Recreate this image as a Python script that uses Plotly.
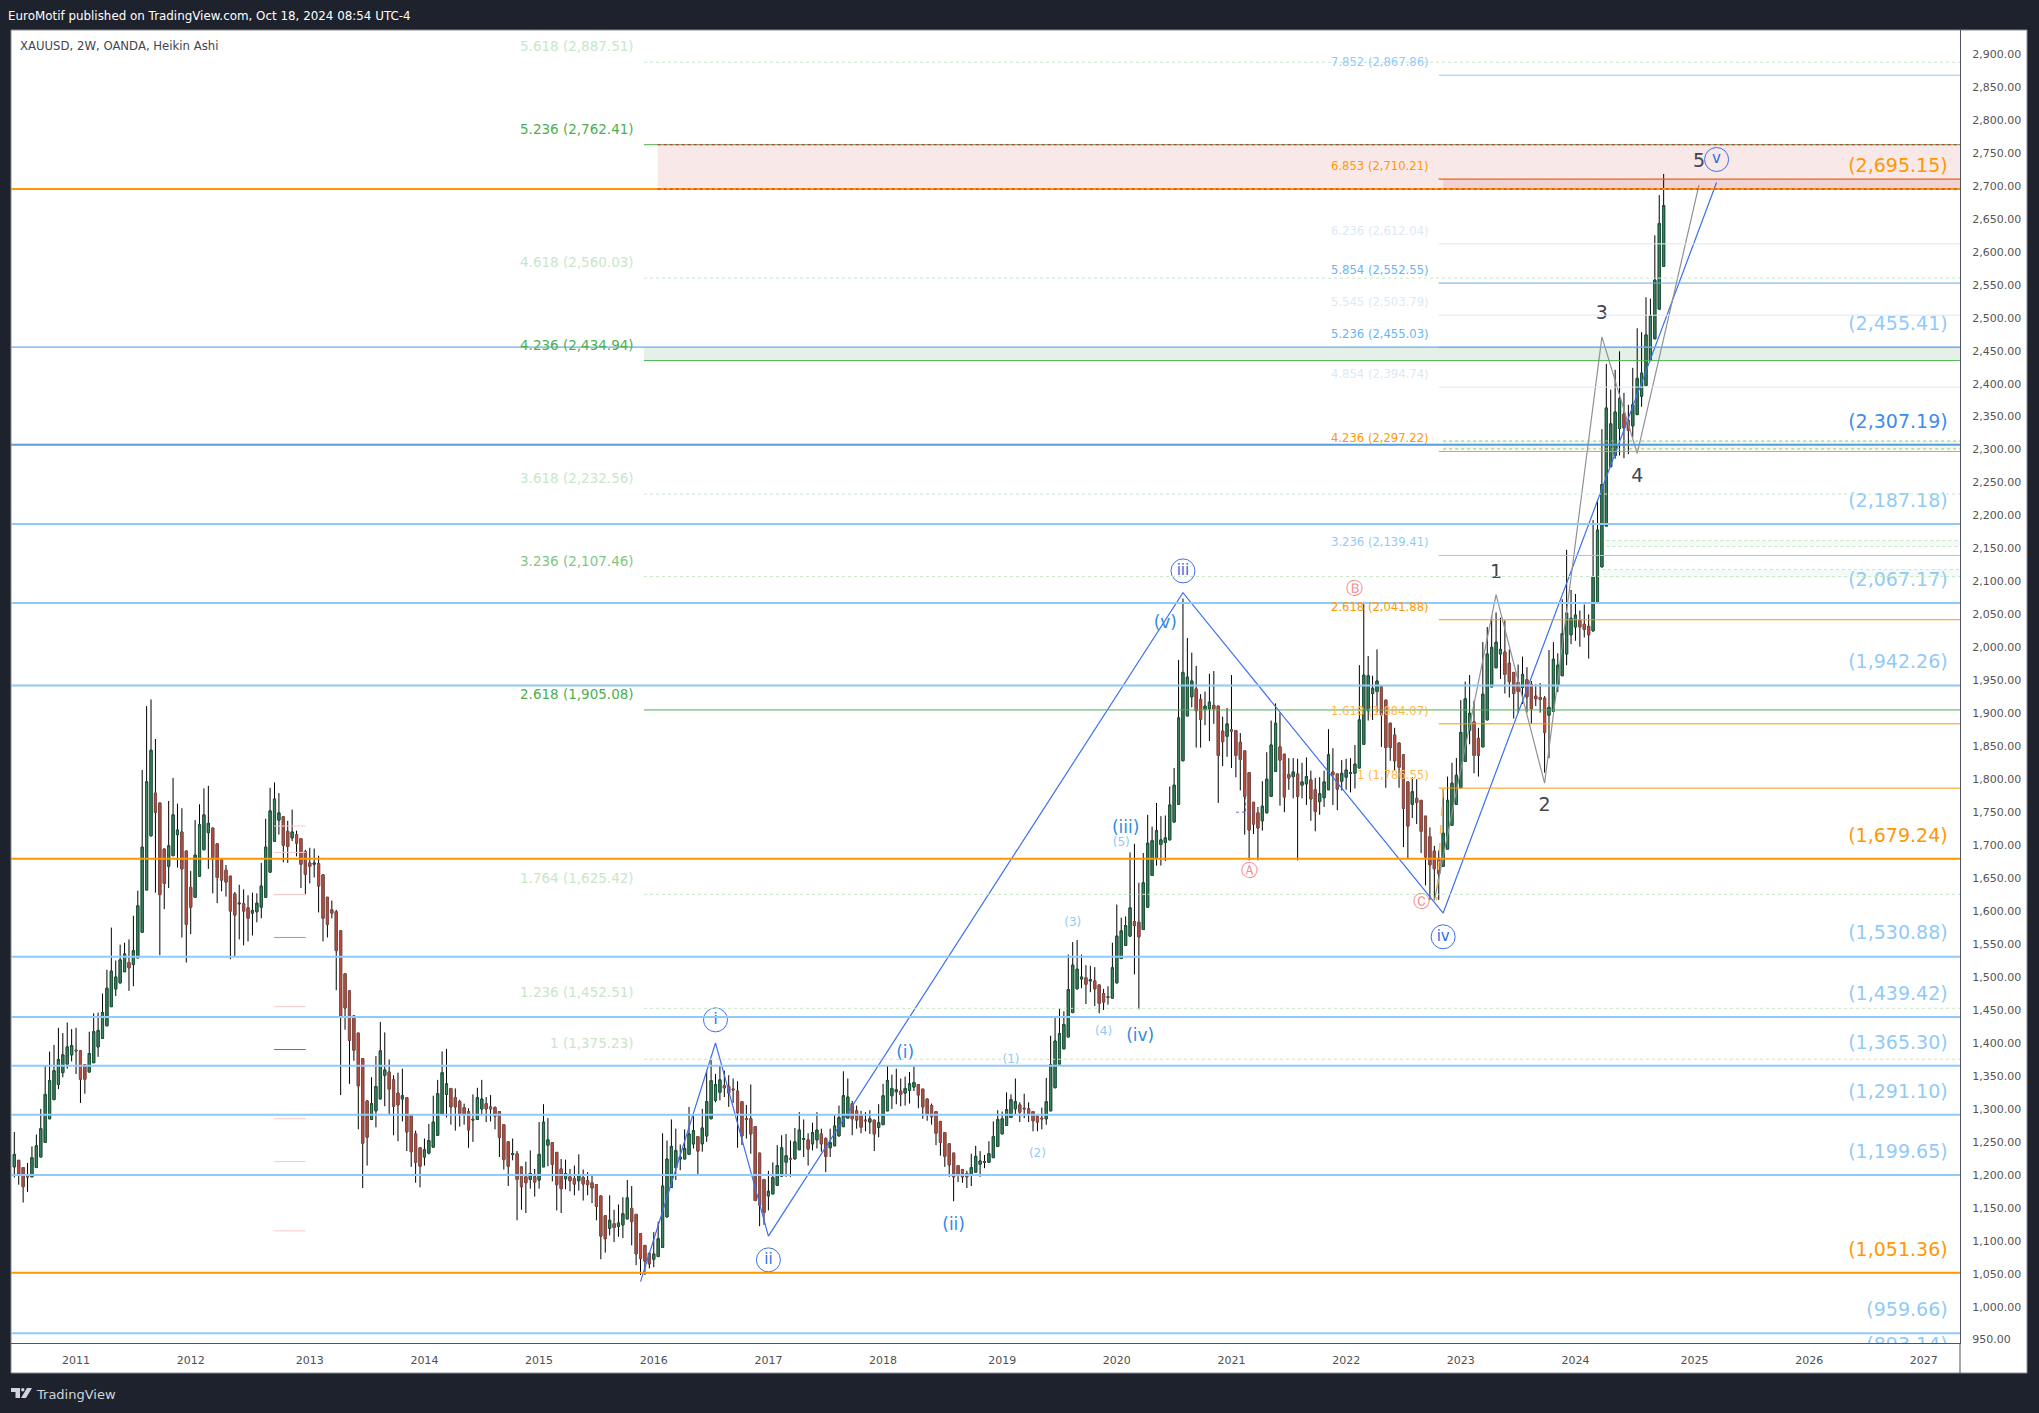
import plotly.graph_objects as go

# Heikin Ashi candles, XAUUSD 2W
opens = [
1212,1222,1211,1198,1197,1211,1227,1249,1285,1314,
1337,1355,1368,1382,1389,1388,1367,1356,1370,1394,
1407,1426,1455,1482,1491,1508,1522,1519,1529,1568,
1632,1714,1779,1764,1694,1668,1684,1716,1720,1691,
1636,1621,1653,1693,1719,1726,1702,1678,1662,1653,
1626,1611,1611,1605,1597,1599,1606,1621,1659,1706,
1738,1743,1721,1711,1716,1710,1690,1673,1671,1672,
1655,1621,1602,1599,1570,1505,1479,1441,1415,1376,
1312,1284,1297,1315,1351,1356,1344,1324,1315,1317,
1291,1262,1241,1227,1233,1242,1260,1292,1322,1331,
1317,1311,1302,1296,1283,1284,1300,1308,1303,1302,
1296,1276,1250,1231,1232,1212,1197,1193,1197,1192,
1212,1245,1249,1234,1209,1194,1197,1194,1191,1196,
1191,1188,1185,1168,1138,1119,1126,1122,1124,1133,
1149,1140,1111,1093,1081,1072,1076,1090,1136,1181,
1211,1224,1224,1231,1247,1258,1247,1259,1285,1313,
1325,1335,1334,1330,1327,1311,1285,1285,1273,1233,
1193,1168,1171,1184,1198,1219,1225,1224,1238,1254,
1253,1247,1253,1262,1255,1241,1244,1259,1273,1286,
1308,1297,1290,1283,1280,1283,1272,1276,1297,1320,
1326,1327,1324,1328,1333,1337,1330,1315,1305,1296,
1281,1264,1247,1233,1214,1208,1202,1200,1204,1216,
1219,1219,1226,1243,1262,1275,1287,1300,1306,1301,
1300,1296,1289,1286,1285,1297,1332,1368,1391,1409,
1446,1482,1497,1499,1494,1494,1488,1475,1469,1468,
1491,1528,1548,1562,1584,1583,1572,1606,1654,1680,
1701,1704,1708,1735,1762,1828,1896,1925,1937,1921,
1906,1907,1912,1911,1873,1865,1875,1874,1856,1843,
1810,1765,1749,1737,1749,1774,1812,1849,1838,1807,
1804,1808,1791,1793,1799,1784,1766,1772,1784,1811,
1808,1797,1803,1809,1809,1817,1853,1904,1930,1933,
1942,1920,1885,1867,1855,1837,1796,1762,1771,1768,
1744,1713,1691,1680,1668,1694,1730,1762,1787,1827,
1874,1887,1862,1849,1890,1940,1969,1990,1993,1976,
1962,1947,1939,1951,1944,1926,1924,1923,1897,1903,
1942,1957,1990,2019,2031,2041,2035,2032,2025,2067,
2122,2184,2274,2291,2332,2354,2344,2336,2353,2381,
2397,2435,2468,2513,2578]
highs = [
1265,1222,1211,1218,1243,1261,1300,1365,1387,1397,
1423,1415,1431,1421,1423,1389,1367,1417,1445,1446,
1475,1511,1575,1525,1549,1552,1557,1593,1631,1814,
1911,1921,1861,1764,1695,1767,1802,1763,1756,1692,
1661,1738,1762,1786,1790,1726,1702,1680,1670,1653,
1629,1640,1633,1624,1628,1627,1673,1740,1787,1795,
1779,1743,1737,1754,1722,1710,1693,1696,1695,1684,
1655,1621,1616,1602,1570,1505,1479,1442,1415,1376,
1313,1348,1380,1432,1416,1375,1351,1355,1361,1317,
1291,1267,1241,1255,1277,1320,1344,1387,1391,1331,
1331,1314,1308,1301,1322,1332,1344,1318,1321,1304,
1296,1276,1250,1255,1236,1212,1220,1237,1209,1280,
1307,1286,1249,1234,1224,1223,1209,1214,1231,1208,
1204,1200,1185,1168,1138,1169,1147,1155,1166,1192,
1183,1140,1111,1093,1082,1113,1129,1263,1252,1284,
1270,1246,1269,1303,1289,1258,1300,1358,1374,1353,
1366,1358,1351,1346,1342,1311,1306,1337,1273,1233,
1193,1206,1219,1245,1260,1262,1252,1271,1295,1284,
1263,1279,1295,1270,1257,1270,1291,1305,1357,1346,
1312,1305,1297,1295,1298,1283,1307,1338,1366,1352,
1361,1346,1349,1356,1364,1337,1330,1315,1308,1296,
1281,1264,1247,1233,1214,1209,1206,1232,1244,1236,
1230,1251,1281,1298,1296,1325,1322,1346,1310,1323,
1310,1296,1290,1302,1347,1411,1439,1452,1448,1534,
1553,1556,1534,1518,1517,1515,1488,1482,1486,1552,
1610,1590,1592,1689,1702,1643,1688,1746,1728,1764,
1744,1745,1789,1817,1981,2074,2014,1992,1972,1929,
1933,1960,1964,1911,1895,1908,1958,1874,1870,1843,
1810,1765,1758,1797,1841,1889,1915,1901,1838,1832,
1832,1831,1825,1833,1813,1802,1803,1813,1876,1847,
1808,1829,1831,1832,1852,1973,2069,1987,1957,1997,
1942,1920,1885,1878,1855,1837,1796,1803,1800,1768,
1744,1727,1699,1692,1785,1804,1825,1832,1920,1948,
1958,1919,1878,2008,2031,2048,2053,2045,2041,1997,
1962,1974,1986,1970,1949,1944,1946,1926,1996,2008,
1991,2073,2148,2087,2081,2056,2065,2050,2193,2224,
2331,2430,2391,2421,2449,2386,2368,2424,2484,2478,
2531,2529,2625,2686,2718]
lows = [
1196,1185,1158,1174,1197,1211,1227,1249,1285,1314,
1330,1348,1361,1372,1353,1309,1323,1355,1370,1379,
1407,1426,1455,1471,1491,1508,1479,1486,1529,1568,
1632,1714,1628,1533,1603,1635,1684,1666,1560,1522,
1565,1621,1653,1693,1664,1627,1612,1630,1622,1527,
1531,1557,1548,1554,1563,1583,1589,1621,1659,1706,
1716,1674,1673,1706,1683,1635,1626,1642,1651,1598,
1554,1560,1589,1480,1321,1420,1338,1373,1269,1180,
1214,1283,1272,1315,1304,1292,1260,1251,1281,1236,
1212,1188,1181,1214,1231,1241,1260,1292,1287,1276,
1267,1273,1276,1241,1250,1284,1291,1280,1281,1269,
1227,1208,1183,1222,1131,1147,1142,1179,1167,1179,
1212,1213,1190,1146,1142,1178,1175,1169,1176,1161,
1169,1157,1131,1072,1082,1108,1098,1106,1104,1133,
1093,1063,1048,1048,1058,1060,1076,1090,1136,1181,
1192,1207,1224,1230,1240,1199,1235,1250,1285,1310,
1313,1318,1303,1309,1241,1245,1255,1232,1160,1122,
1124,1146,1171,1184,1198,1197,1197,1224,1238,1227,
1214,1237,1240,1235,1204,1227,1244,1259,1273,1286,
1260,1270,1263,1266,1262,1236,1257,1276,1297,1300,
1307,1304,1305,1308,1327,1301,1285,1282,1276,1245,
1229,1212,1197,1160,1189,1188,1180,1183,1204,1197,
1210,1219,1226,1243,1262,1275,1287,1291,1280,1286,
1280,1266,1266,1269,1276,1297,1332,1368,1391,1409,
1446,1482,1483,1459,1477,1456,1445,1450,1458,1468,
1491,1528,1548,1562,1504,1451,1572,1606,1654,1669,
1669,1676,1708,1735,1762,1828,1896,1909,1848,1848,
1882,1858,1884,1764,1820,1834,1817,1803,1783,1716,
1677,1717,1677,1722,1749,1774,1812,1760,1750,1784,
1771,1677,1771,1761,1737,1721,1746,1758,1784,1761,
1753,1783,1784,1780,1786,1817,1853,1889,1890,1901,
1849,1787,1828,1813,1787,1697,1679,1741,1732,1688,
1639,1617,1617,1617,1668,1694,1730,1762,1787,1827,
1853,1809,1804,1849,1890,1940,1969,1952,1930,1924,
1892,1901,1914,1901,1884,1911,1901,1810,1832,1903,
1932,1957,1973,2005,2010,2001,2015,1983,2024,2067,
2122,2184,2274,2286,2291,2287,2293,2319,2353,2365,
2397,2435,2468,2513,2578]
closes = [
1231,1200,1182,1197,1226,1244,1270,1322,1343,1358,
1375,1382,1394,1396,1388,1345,1345,1384,1417,1419,
1446,1483,1509,1500,1526,1535,1514,1540,1608,1697,
1796,1844,1750,1625,1642,1699,1746,1723,1664,1580,
1606,1685,1731,1746,1733,1679,1651,1647,1644,1600,
1594,1612,1600,1589,1601,1612,1638,1697,1752,1770,
1749,1700,1698,1720,1703,1671,1656,1668,1673,1638,
1589,1580,1597,1540,1439,1453,1404,1389,1335,1248,
1257,1308,1334,1388,1359,1330,1304,1306,1320,1265,
1235,1219,1213,1238,1252,1280,1323,1355,1338,1303,
1303,1293,1291,1268,1284,1317,1315,1300,1300,1289,
1257,1223,1213,1232,1193,1182,1188,1202,1189,1231,
1280,1253,1216,1185,1179,1202,1191,1186,1200,1186,
1185,1180,1152,1107,1103,1131,1120,1127,1141,1165,
1129,1080,1073,1069,1065,1080,1103,1183,1224,1243,
1237,1227,1240,1262,1267,1236,1271,1311,1343,1337,
1344,1332,1324,1329,1294,1259,1284,1262,1161,1154,
1143,1175,1196,1214,1241,1229,1224,1250,1268,1255,
1239,1264,1268,1247,1228,1249,1274,1287,1320,1318,
1285,1283,1272,1282,1285,1262,1279,1320,1343,1331,
1329,1322,1331,1338,1340,1321,1303,1292,1288,1263,
1249,1228,1215,1197,1199,1197,1197,1211,1228,1221,
1220,1232,1258,1284,1285,1299,1314,1311,1295,1300,
1293,1282,1280,1285,1311,1367,1403,1414,1428,1481,
1518,1512,1500,1489,1496,1482,1460,1462,1470,1514,
1562,1570,1578,1605,1578,1561,1643,1703,1707,1722,
1708,1711,1761,1791,1893,1962,1955,1949,1904,1891,
1911,1917,1907,1836,1857,1884,1873,1836,1830,1774,
1723,1732,1726,1759,1800,1852,1885,1829,1773,1802,
1811,1774,1796,1804,1770,1751,1778,1796,1837,1807,
1785,1809,1814,1810,1823,1890,1958,1957,1938,1949,
1898,1848,1848,1828,1818,1756,1729,1781,1765,1721,
1682,1670,1664,1657,1718,1768,1794,1806,1871,1922,
1900,1836,1836,1929,1990,2000,2008,1997,1959,1948,
1930,1933,1959,1925,1907,1922,1921,1871,1909,1982,
1973,2021,2052,2044,2049,2031,2027,2019,2107,2178,
2247,2363,2339,2357,2377,2333,2329,2368,2408,2416,
2474,2503,2557,2643,2670]

year_labels = ["2011","2012","2013","2014","2015","2016","2017","2018","2019","2020","2021","2022","2023","2024","2025","2026","2027"]
year_bars = [14,40,67,93,119,145,171,197,224,250,276,302,328,354,381,407,433]
price_ticks = list(range(950, 2901, 50))

# Full-width levels and their right-hand labels
orange_levels = [2695.15, 1679.24, 1051.36]
blue_levels = [2187.18, 2067.17, 1942.26, 1530.88, 1439.42, 1365.30, 1291.10, 1199.65, 959.66]
strong_blue_level = 2307.19
thin_blue_level = 2455.41
label_prices = [2695.15,2455.41,2307.19,2187.18,2067.17,1942.26,1679.24,1530.88,1439.42,1365.30,1291.10,1199.65,1051.36,959.66,906.0]
label_texts = ["(2,695.15)","(2,455.41)","(2,307.19)","(2,187.18)","(2,067.17)","(1,942.26)","(1,679.24)","(1,530.88)","(1,439.42)","(1,365.30)","(1,291.10)","(1,199.65)","(1,051.36)","(959.66)","(893.14)"]
label_colors = ["#ff9800","#90caf9","#3d8bf0","#90caf9","#90caf9","#90caf9","#ff9800","#90caf9","#90caf9","#90caf9","#90caf9","#90caf9","#ff9800","#90caf9","#90caf9"]

# Left fibonacci column
fibL_prices = [2887.51,2762.41,2560.03,2434.94,2232.56,2107.46,1905.08,1625.42,1452.51,1375.23]
fibL_texts = ["5.618 (2,887.51)","5.236 (2,762.41)","4.618 (2,560.03)","4.236 (2,434.94)","3.618 (2,232.56)","3.236 (2,107.46)","2.618 (1,905.08)","1.764 (1,625.42)","1.236 (1,452.51)","1 (1,375.23)"]
fibL_colors = ["#c8e6c9","#4caf50","#c8e6c9","#4caf50","#c8e6c9","#81c784","#4caf50","#c8e6c9","#c8e6c9","#c8e6c9"]
fibL_solid = [False,True,False,True,False,False,True,False,False,False]

# Right fibonacci column
fibR_prices = [2867.86,2710.21,2612.04,2552.55,2503.79,2455.03,2394.74,2297.22,2139.41,2041.88,1884.07,1786.55]
fibR_texts = ["7.852 (2,867.86)","6.853 (2,710.21)","6.236 (2,612.04)","5.854 (2,552.55)","5.545 (2,503.79)","5.236 (2,455.03)","4.854 (2,394.74)","4.236 (2,297.22)","3.236 (2,139.41)","2.618 (2,041.88)","1.618 (1,884.07)","1 (1,786.55)"]
fibR_colors = ["#90caf9","#ff9800","#dbe9f6","#64b5f6","#dbe9f6","#64b5f6","#dbe9f6","#ff9800","#90caf9","#ff9800","#ffb74d","#ffb74d"]
fibR_line_colors = ["#90caf9","#d84315","#dbe9f6","#64a8e0","#dbe9f6","#64b5f6","#dbe9f6","#ff9800","#90caf9","#ff9800","#ff9800","#ff9800"]

# Wave counts (bar number, price)
blue_wave_bars = [142,159,171,265,324,386]
blue_wave_prices = [1038,1400,1107,2083,1597,2705]
gray_wave_bars = [322,336,347,360,368,382]
gray_wave_prices = [1616,2080,1794,2471,2294,2701]

circle_bars = [159,171,265,324,386]
circle_prices = [1435,1071,2116,1561,2740]
circle_texts = ["i","ii","iii","iv","v"]
minor_bars = [202,213,252,255.3,261]
minor_prices = [1384,1123,1725,1409,2036]
minor_texts = ["(i)","(ii)","(iii)","(iv)","(v)"]
small_bars = [226,232,240,247,251]
small_prices = [1374,1232,1582,1417,1703]
small_texts = ["(1)","(2)","(3)","(4)","(5)"]
abc_bars = [280,304,319]
abc_prices = [1659,2088,1612]
abc_texts = ["Ⓐ","Ⓑ","Ⓒ"]
digit_bars = [336,347,360,368,382]
digit_prices = [2112,1759,2506,2258,2736]
digit_texts = ["1","2","3","4","5"]

red_tick_prices = [1729,1689,1625,1560,1455,1390,1285,1220,1115]
red_tick_colors = ["#f8c9c9","#f8c9c9","#f4c2c2","#ec7b7b","#f8c9c9","#e0443c","#f8c9c9","#f8c9c9","#f8c9c9"]

W, H = 2039, 1413
L, R, T, B = 11, 1960, 30, 1343
XMIN, XMAX = -0.75, 441.2
PX_PER_PRICE = 0.6593
Y2900 = 54
YMAX = 2900 + (Y2900 - T) / PX_PER_PRICE
YMIN = 2900 - (B - Y2900) / PX_PER_PRICE
DARK = "#1e222d"
FONT = "DejaVu Sans"
LEFT_START, PINK_START, RIGHT_START = 142.8, 145.9, 323

def xp(px):
    return (px - L) / (R - L)

def yp(py):
    return (B - py) / (B - T)

def hline(price, x0, x1, color, width=1, dash="solid", layer="above"):
    return dict(type="line", xref="x", yref="y", x0=x0, x1=x1, y0=price, y1=price,
                line=dict(color=color, width=width, dash=dash), layer=layer)

def band(x0, y0, y1, color):
    return dict(type="rect", xref="x", yref="y", x0=x0, x1=XMAX, y0=y0, y1=y1,
                fillcolor=color, line=dict(width=0), layer="below")

shapes = [
    dict(type="rect", xref="paper", yref="paper", x0=xp(L), x1=xp(2027), y0=yp(1373), y1=yp(T),
         fillcolor="white", line=dict(color="#8a8d96", width=1), layer="below"),
    dict(type="line", xref="paper", yref="paper", x0=xp(R), x1=xp(R), y0=yp(1373), y1=yp(B),
         line=dict(color="#50535e", width=1), layer="below"),
    # TradingView logo
    dict(type="path", xref="paper", yref="paper", layer="above", line=dict(width=0), fillcolor="#d1d4dc",
         path="M %f %f L %f %f L %f %f L %f %f L %f %f L %f %f Z" % (
             xp(11), yp(1388), xp(20), yp(1388), xp(20), yp(1398), xp(15.5), yp(1398), xp(15.5), yp(1392), xp(11), yp(1392))),
    dict(type="circle", xref="paper", yref="paper", layer="above", line=dict(width=0), fillcolor="#d1d4dc",
         x0=xp(21), x1=xp(24.5), y0=yp(1391.5), y1=yp(1388)),
    dict(type="path", xref="paper", yref="paper", layer="above", line=dict(width=0), fillcolor="#d1d4dc",
         path="M %f %f L %f %f L %f %f L %f %f Z" % (
             xp(27), yp(1388), xp(32), yp(1388), xp(26), yp(1398), xp(21), yp(1398))),
    # Zones
    band(PINK_START, 2695.15, 2762.41, "rgba(183,28,28,0.10)"),
    band(RIGHT_START + 1, 2695.15, 2710.21, "rgba(183,28,28,0.10)"),
    band(LEFT_START, 2434.94, 2455.03, "rgba(56,142,60,0.13)"),
    band(324, 2301, 2313, "rgba(76,175,80,0.08)"),
    band(361, 2153, 2162, "rgba(76,175,80,0.06)"),
    band(360, 2106, 2118, "rgba(76,175,80,0.06)"),
    hline(2313, 324, XMAX, "#81c784", 1, "dot"),
    hline(2301, 324, XMAX, "#81c784", 1, "dot"),
    hline(2162, 361, XMAX, "#c8e6c9", 1, "dot"),
    hline(2153, 361, XMAX, "#c8e6c9", 1, "dot"),
    hline(2118, 360, XMAX, "#c8e6c9", 1, "dot"),
    dict(type="line", xref="x", yref="y", x0=324, x1=322.5, y0=1785, y1=1616,
         line=dict(color="#ffb74d", width=1.5, dash="dash")),
    dict(type="line", xref="x", yref="y", x0=279.2, x1=279.2, y0=1783, y1=1750,
         line=dict(color="#7e57c2", width=1, dash="dot")),
    dict(type="line", xref="x", yref="y", x0=277, x1=281, y0=1750, y1=1750,
         line=dict(color="#7e57c2", width=1, dash="dot")),
]

for p, c in zip(red_tick_prices, red_tick_colors):
    shapes.append(hline(p, 58.9, 66.1, c, 1))
for p, solid in zip(fibL_prices, fibL_solid):
    shapes.append(hline(p, LEFT_START, XMAX, "#4caf50" if solid else "#c8e6c9", 1, "solid" if solid else "dot"))
for p, c in zip(fibR_prices, fibR_line_colors):
    shapes.append(hline(p, RIGHT_START, XMAX, c, 1))
for p in blue_levels:
    shapes.append(hline(p, XMIN, XMAX, "#90caf9", 2))
shapes.append(hline(strong_blue_level, XMIN, XMAX, "#5a9bdc", 2))
shapes.append(hline(thin_blue_level, XMIN, XMAX, "#64aef0", 1.3))
for p in orange_levels:
    shapes.append(hline(p, XMIN, XMAX, "#ff9800", 2))
shapes += [
    hline(2762.41, PINK_START, XMAX, "#c62828", 1, "dot"),
    hline(2695.15, PINK_START, XMAX, "#c62828", 1, "dot"),
    hline(2710.21, RIGHT_START, XMAX, "#ff9800", 1, "dot"),
]

bars = list(range(len(opens)))
body_high = [max(o, c) for o, c in zip(opens, closes)]
body_low = [min(o, c) for o, c in zip(opens, closes)]

fig = go.Figure()
fig.add_trace(go.Candlestick(
    x=bars, open=opens, high=highs, low=lows, close=closes, whiskerwidth=0, hoverinfo="skip",
    increasing=dict(line=dict(color="#000000", width=1), fillcolor="#000000"),
    decreasing=dict(line=dict(color="#000000", width=1), fillcolor="#000000"), showlegend=False))
fig.add_trace(go.Candlestick(
    x=bars, open=opens, high=body_high, low=body_low, close=closes, whiskerwidth=0, hoverinfo="skip",
    increasing=dict(line=dict(color="#1f5a3e", width=1), fillcolor="#3e8660"),
    decreasing=dict(line=dict(color="#8d5048", width=1), fillcolor="#c0493b"), showlegend=False))

# Wave paths
fig.add_trace(go.Scatter(x=blue_wave_bars, y=blue_wave_prices, mode="lines", hoverinfo="skip",
                         line=dict(color="#3d6ff0", width=1.2), showlegend=False))
fig.add_trace(go.Scatter(x=gray_wave_bars, y=gray_wave_prices, mode="lines", hoverinfo="skip",
                         line=dict(color="#8f9196", width=1.2), showlegend=False))

# Right-hand price labels: scatter text so the lowest one is clipped by the pane
LABEL_SHIFT = 22 / PX_PER_PRICE
fig.add_trace(go.Scatter(x=[438.4] * len(label_prices), y=[p + LABEL_SHIFT for p in label_prices],
                         mode="text", text=label_texts, textposition="middle left", hoverinfo="skip",
                         textfont=dict(family=FONT, size=19, color=label_colors), showlegend=False))

# Circled wave labels
fig.add_trace(go.Scatter(x=circle_bars, y=circle_prices, mode="markers+text", text=circle_texts,
                         textposition="middle center", hoverinfo="skip", showlegend=False,
                         marker=dict(symbol="circle-open", size=24, color="#3d6ff0", line=dict(width=1, color="#3d6ff0")),
                         textfont=dict(family=FONT, size=15, color="#2f6fe0")))
for xs, ys, ts, color, size in [
    (minor_bars, minor_prices, minor_texts, "#2f8be0", 17),
    (small_bars, small_prices, small_texts, "#90caf9", 12),
    (digit_bars, digit_prices, digit_texts, "#434651", 19),
]:
    fig.add_trace(go.Scatter(x=xs, y=ys, mode="text", text=ts, textposition="middle center", hoverinfo="skip",
                             textfont=dict(family=FONT, size=size, color=color), showlegend=False))
fig.add_trace(go.Scatter(x=abc_bars, y=abc_prices, mode="text", text=abc_texts, textposition="middle center",
                         hoverinfo="skip", textfont=dict(family=FONT, size=17, color="#f48a8a"), showlegend=False))

annotations = []
for p, t, c in zip(fibL_prices, fibL_texts, fibL_colors):
    annotations.append(dict(x=141, y=p, xref="x", yref="y", text=t, showarrow=False, xanchor="right",
                            yanchor="middle", yshift=16, font=dict(family=FONT, size=13.5, color=c)))
for p, t, c in zip(fibR_prices, fibR_texts, fibR_colors):
    annotations.append(dict(x=321.2, y=p, xref="x", yref="y", text=t, showarrow=False, xanchor="right",
                            yanchor="middle", yshift=13, font=dict(family=FONT, size=11.6, color=c)))
annotations += [
    dict(xref="paper", yref="paper", x=xp(6), y=yp(15.5), text="EuroMotif published on TradingView.com, Oct 18, 2024 08:54 UTC-4",
         showarrow=False, xanchor="left", yanchor="middle", font=dict(family=FONT, size=11.9, color="#ffffff")),
    dict(xref="paper", yref="paper", x=xp(18), y=yp(46), text="XAUUSD, 2W, OANDA, Heikin Ashi",
         showarrow=False, xanchor="left", yanchor="middle", font=dict(family=FONT, size=11.7, color="#434651")),
    dict(xref="paper", yref="paper", x=xp(34), y=yp(1394), text="TradingView",
         showarrow=False, xanchor="left", yanchor="middle", font=dict(family=FONT, size=13, color="#d1d4dc")),
]

fig.update_layout(
    width=W, height=H, autosize=False,
    margin=dict(l=L, r=W - R, t=T, b=H - B, pad=0, autoexpand=False),
    paper_bgcolor=DARK, plot_bgcolor="white",
    showlegend=False, boxgap=0.32, boxmode="overlay",
    shapes=shapes, annotations=annotations,
    xaxis=dict(range=[XMIN, XMAX], rangeslider=dict(visible=False), tickmode="array",
               tickvals=year_bars, ticktext=year_labels, showgrid=False, zeroline=False,
               showline=True, linecolor="#50535e", linewidth=1, ticks="outside", ticklen=7,
               tickcolor="rgba(0,0,0,0)", tickfont=dict(family=FONT, size=11, color="#4f4f4f")),
    yaxis=dict(range=[YMIN, YMAX], side="right", tickmode="array", tickvals=price_ticks,
               ticktext=[f"{v:,.2f}" for v in price_ticks], showgrid=False, zeroline=False,
               showline=True, linecolor="#50535e", linewidth=1, ticks="outside", ticklen=9,
               tickcolor="rgba(0,0,0,0)", tickfont=dict(family=FONT, size=11, color="#555555")),
)

fig.write_html("out.html", config=dict(displayModeBar=False),
               post_script="document.body.style.margin='0';document.body.style.overflow='hidden';document.body.style.background='#1e222d';")
